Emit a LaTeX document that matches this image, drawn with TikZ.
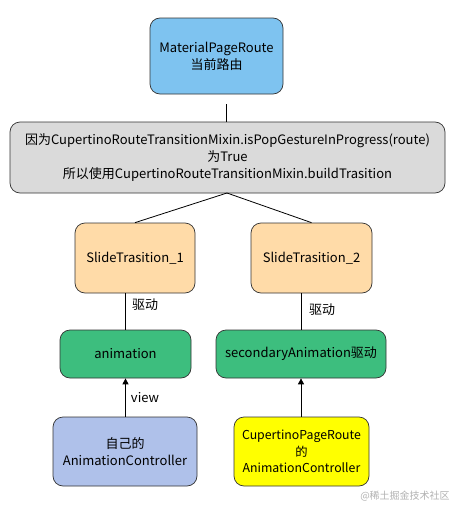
\documentclass[tikz,border=0pt]{standalone}
\usepackage{fontspec}
\setmainfont{Noto Sans CJK SC}
\usetikzlibrary{arrows.meta}
\definecolor{cblue}{HTML}{7EC3F0}
\definecolor{cgray}{HTML}{DADADA}
\definecolor{cpeach}{HTML}{FFDBA8}
\definecolor{cgreen}{HTML}{3DBE7E}
\definecolor{clav}{HTML}{AFC1EA}
\definecolor{cyel}{HTML}{FFFF00}
\tikzset{
  box/.style={draw=black!80, line width=0.7pt, rounded corners=10pt, align=center, inner sep=0pt, font=\fontsize{13}{17}\selectfont},
  conn/.style={draw=black, line width=0.8pt},
  arr/.style={conn, -{Triangle[length=6pt,width=6pt]}},
  lbl/.style={font=\fontsize{13}{15}\selectfont}
}
\begin{document}
\begin{tikzpicture}[x=1pt,y=-1pt]
\useasboundingbox[fill=white] (0,0) rectangle (456,514);
\node[box, fill=cblue, minimum width=133pt, minimum height=76pt] (top) at (216.5,56) {MaterialPageRoute\\当前路由};
\node[box, fill=cgray, minimum width=435pt, minimum height=71pt] (mid) at (227.5,157.5) {因为CupertinoRouteTransitionMixin.isPopGestureInProgress(route)\\为True\\所以使用CupertinoRouteTransitionMixin.buildTrasition};
\node[box, fill=cpeach, minimum width=120pt, minimum height=70pt] (st1) at (135,258) {SlideTrasition\_1};
\node[box, fill=cpeach, minimum width=121pt, minimum height=70pt] (st2) at (311.5,258) {SlideTrasition\_2};
\node[box, fill=cgreen, minimum width=131pt, minimum height=48pt] (an1) at (125.5,354) {animation};
\node[box, fill=cgreen, minimum width=170pt, minimum height=48pt] (an2) at (301,354) {secondaryAnimation驱动};
\node[box, fill=clav, minimum width=144pt, minimum height=69pt] (ac1) at (125,451.5) {自己的\\AnimationController};
\node[box, fill=cyel, minimum width=135pt, minimum height=69pt, font=\fontsize{12.3}{16.5}\selectfont] (ac2) at (301.5,451.5) {CupertinoPageRoute\\的\\AnimationController};
\coordinate (tl) at (226,104);
\draw[conn] (tl) -- (tl |- mid.north);
\draw[conn] (227,193) -- (st1.north);
\draw[conn] (227,193) -- (st2.north);
\draw[conn] (st1.south -| an1.north) -- (an1.north);
\draw[conn] (st2.south -| an2.north) -- (an2.north);
\draw[arr] (ac1.north -| an1.south) -- (an1.south);
\draw[arr] (ac2.north -| an2.south) -- (an2.south);
\node[lbl] (l1) at (145,305) {驱动};
\node[lbl] (l2) at (322,310) {驱动};
\node[lbl] (l3) at (145,398) {view};
\node[font=\fontsize{10}{12}\selectfont, text=black!30] (wm) at (405,496) {@稀土掘金技术社区};
\end{tikzpicture}
\end{document}
